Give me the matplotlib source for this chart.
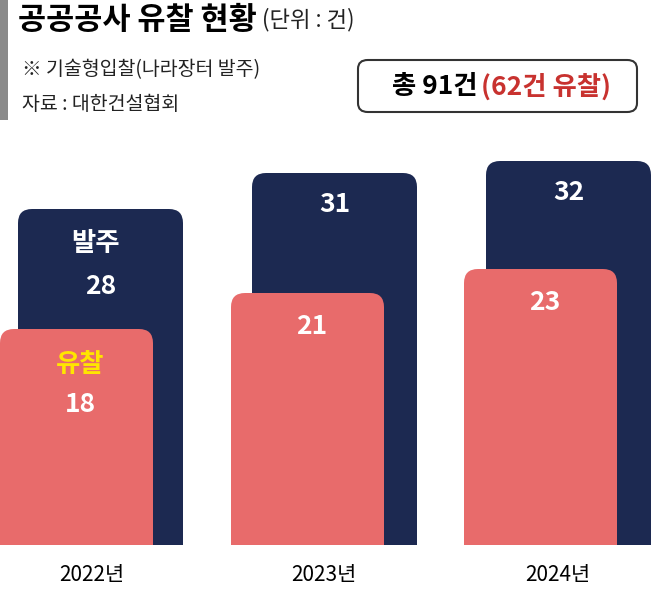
import matplotlib
matplotlib.use("Agg")
import matplotlib.pyplot as plt
from matplotlib.patches import FancyBboxPatch, Rectangle

years = ["2022년", "2023년", "2024년"]
ordered = [28, 31, 32]
failed = [18, 21, 23]

F = ["Noto Sans CJK KR", "Noto Sans CJK JP", "Noto Sans CJK SC", "DejaVu Sans"]
plt.rcParams["font.family"] = F
NAVY = "#1c2951"; PINK = "#e86b6b"
W, H = 651, 591
fig = plt.figure(figsize=(W/100, H/100), dpi=100)
fig.patch.set_facecolor("white")
base = 545
scale = 12.0
ax = fig.add_axes([0, (H-base)/H, 1, base/H])
ax.set_xlim(0, W); ax.set_ylim(0, base/scale); ax.axis("off")

navy_x = [18, 252, 486]; pink_x = [0, 231, 464]
bw_n, bw_p = 165, 153
r = 14
asp = 1/scale
def rbar(x, w, h, c):
    z = 2 if c == NAVY else 3
    ax.add_patch(FancyBboxPatch((x+r, 0), w-2*r, h-r*asp, boxstyle=f"round,pad={r}",
                                mutation_aspect=asp, fc=c, ec="none", zorder=z))
    ax.add_patch(Rectangle((x, 0), w, h*0.5, fc=c, ec="none", zorder=z))
for i in range(3):
    rbar(navy_x[i], bw_n, ordered[i], NAVY)
    rbar(pink_x[i], bw_p, failed[i], PINK)
    ax.text(navy_x[i]+bw_n/2, ordered[i]-(6.5 if i==0 else 2.6), str(ordered[i]),
            color="white", fontsize=19, fontweight="bold", ha="center", va="center", zorder=5)
    ax.text(pink_x[i]+bw_p/2+4, failed[i]-(6.3 if i==0 else 2.8), str(failed[i]),
            color="white", fontsize=19, fontweight="bold", ha="center", va="center", zorder=5)
    fig.text((navy_x[i]+pink_x[i]+bw_n)/2/W, 1-575/H, years[i], fontsize=15, ha="center", va="center")
ax.text(navy_x[0]+bw_n/2-5, ordered[0]-2.9, "발주", color="white", fontsize=19, fontweight="bold", ha="center", va="center", zorder=5)
ax.text(pink_x[0]+bw_p/2+4, failed[0]-3.0, "유찰", color="#ffe500", fontsize=19, fontweight="bold", ha="center", va="center", zorder=5)

fig.add_artist(Rectangle((0, 1-120/H), 8/W, 120/H, transform=fig.transFigure, fc="#8a8a8a", ec="none"))
fig.text(18/W, 1-20/H, "공공공사 유찰 현황", fontsize=22, fontweight="bold", va="center")
fig.text(262/W, 1-20/H, "(단위 : 건)", fontsize=16, va="center", color="#222")
fig.text(22/W, 1-70/H, "※ 기술형입찰(나라장터 발주)", fontsize=14, va="center", color="#222")
fig.text(22/W, 1-105/H, "자료 : 대한건설협회", fontsize=14, va="center", color="#222")
fig.add_artist(FancyBboxPatch((358/W, 1-112/H), 279/W, 52/H, boxstyle="round,pad=0,rounding_size=0.015",
                              transform=fig.transFigure, fc="white", ec="#333", lw=1.5))
fig.text(392/W, 1-87/H, "총 91건", fontsize=19, fontweight="bold", va="center")
fig.text(481/W, 1-87/H, "(62건 유찰)", fontsize=19, fontweight="bold", va="center", color="#c8322f")
fig.savefig("out.png", dpi=100)
